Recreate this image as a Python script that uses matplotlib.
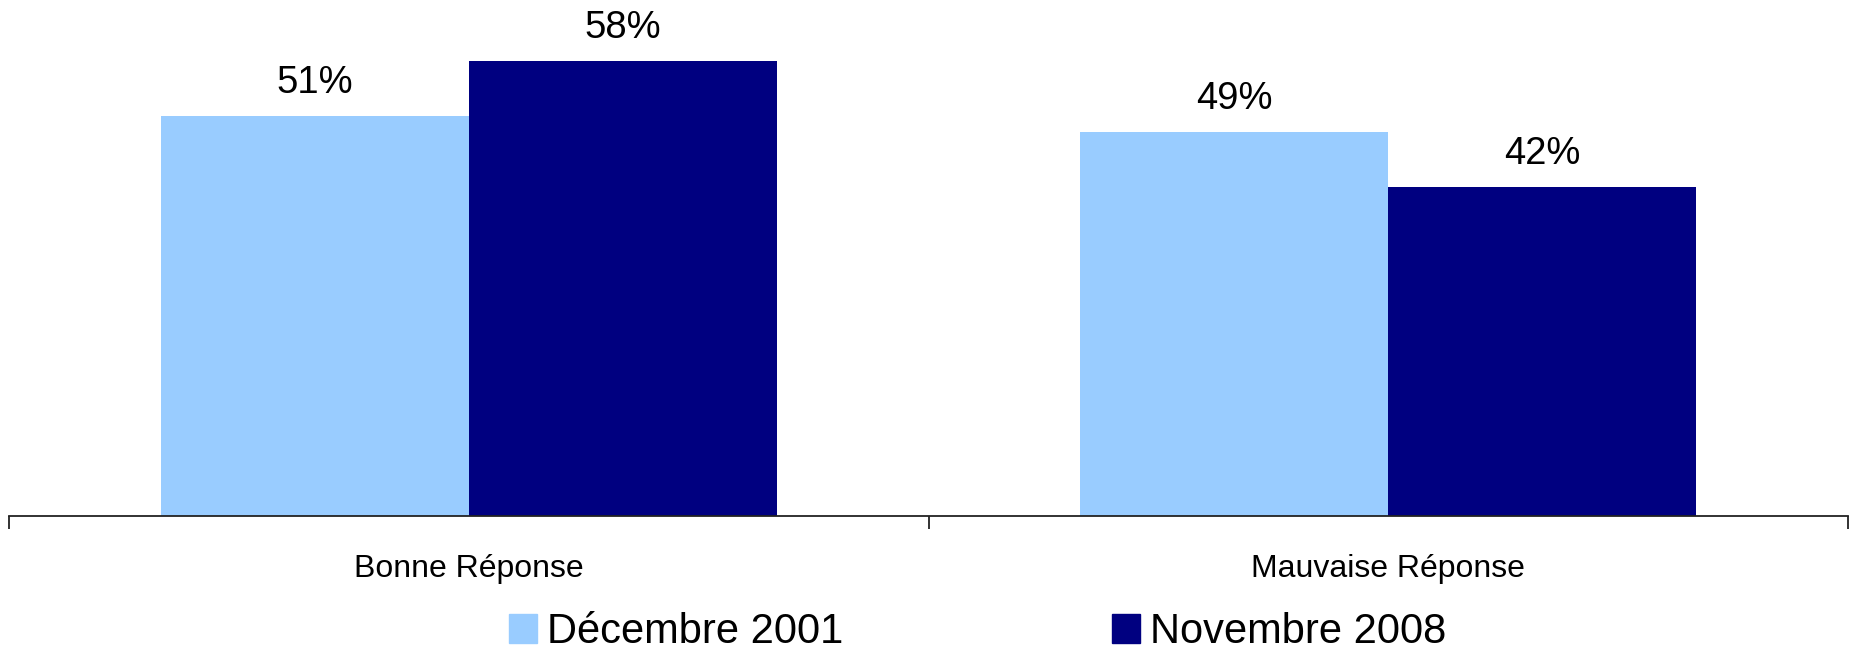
import matplotlib
matplotlib.use("Agg")
import matplotlib.pyplot as plt
from matplotlib.patches import Patch
import numpy as np

plt.rcParams['font.family'] = ['Liberation Sans', 'DejaVu Sans']

categories = ["Bonne Réponse", "Mauvaise Réponse"]
series_names = ["Décembre 2001", "Novembre 2008"]
dec_2001 = [51, 49]
nov_2008 = [58, 42]
colors = ["#99CCFF", "#000080"]

W, H = 1854, 649
fig = plt.figure(figsize=(W / 100, H / 100), dpi=100)
ax_left, ax_right = 9 / W, 1848 / W
ax_bottom = (H - 515.5) / H
ax = fig.add_axes([ax_left, ax_bottom, ax_right - ax_left, 1 - ax_bottom])

x = np.arange(len(categories))
bw = 0.335
b1 = ax.bar(x - bw / 2, dec_2001, bw, color=colors[0], label=series_names[0])
b2 = ax.bar(x + bw / 2, nov_2008, bw, color=colors[1], label=series_names[1])

for bars, vals in ((b1, dec_2001), (b2, nov_2008)):
    for r, v in zip(bars, vals):
        ax.annotate(f"{v}%", (r.get_x() + r.get_width() / 2, v),
                    xytext=(0, 33), textcoords="offset pixels",
                    ha="center", va="center", fontsize=27.5)

ax.set_xlim(-0.5, len(categories) - 0.5)
ax.set_ylim(0, 515.5 / 7.83)
for s in ("left", "right", "top"):
    ax.spines[s].set_visible(False)
ax.spines["bottom"].set_linewidth(1.3)
ax.spines["bottom"].set_color("#222222")
ax.set_yticks([])
ax.set_xticks(np.arange(-0.5, len(categories), 1.0))
ax.set_xticklabels([])
ax.tick_params(axis="x", which="major", direction="out", length=9, width=1.3, color="#222222")
ax.set_xticks(x, minor=True)
ax.set_xticklabels(categories, minor=True, fontsize=23)
ax.tick_params(axis="x", which="minor", length=0, pad=28)

handles = [Patch(color=colors[0]), Patch(color=colors[1])]
fig.legend(handles, series_names, loc="center", bbox_to_anchor=(978 / W, (H - 632) / H),
           ncol=2, frameon=False, fontsize=30, handlelength=0.67, handleheight=0.72,
           handletextpad=0.24, columnspacing=6.45, borderpad=0, borderaxespad=0)

fig.savefig("out.png", dpi=100)
